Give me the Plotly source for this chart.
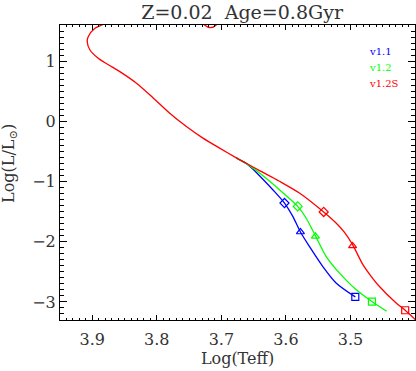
import plotly.graph_objects as go

# isochrone tracks (log Teff, log L/Lsun)
v11_logT = [3.6769, 3.6615, 3.6512, 3.6409, 3.6203, 3.6022, 3.5893, 3.5775, 3.5636, 3.5430, 3.5223, 3.4925]
v11_logL = [-0.606, -0.700, -0.793, -0.904, -1.136, -1.357, -1.579, -1.838, -2.077, -2.408, -2.684, -2.916]

v12_logT = [3.6769, 3.6615, 3.6409, 3.6100, 3.5817, 3.5688, 3.5544, 3.5378, 3.5172, 3.4914, 3.4667, 3.4440]
v12_logL = [-0.606, -0.699, -0.860, -1.136, -1.413, -1.606, -1.899, -2.242, -2.518, -2.795, -2.994, -3.155]

v12s_logT = [3.393, 3.4152, 3.4296, 3.4554, 3.4694, 3.4812, 3.4967, 3.5095, 3.5223, 3.5415,
             3.5791, 3.6100, 3.6409, 3.6615, 3.6769, 3.7027, 3.7285, 3.7542, 3.7800, 3.8057,
             3.8315, 3.8573, 3.8701, 3.8908, 3.9036, 3.9078, 3.9063, 3.8959, 3.8831, 3.870,
             3.80, 3.74, 3.726, 3.717, 3.708, 3.70]
v12s_logL = [-3.36, -3.138, -3.015, -2.740, -2.554, -2.372, -2.048, -1.841, -1.689, -1.506,
             -1.191, -0.995, -0.818, -0.697, -0.606, -0.445, -0.279, -0.086, 0.135, 0.389,
             0.633, 0.826, 0.908, 1.048, 1.185, 1.323, 1.406, 1.545, 1.612, 1.75,
             2.0, 1.8, 1.6, 1.555, 1.6, 1.75]

# marked points on each track (diamond, triangle, square)
v11_mark_T = [3.6022, 3.5775, 3.4925]
v11_mark_L = [-1.357, -1.838, -2.916]
v12_mark_T = [3.5817, 3.5543, 3.4667]
v12_mark_L = [-1.413, -1.910, -2.994]
v12s_mark_T = [3.5415, 3.4967, 3.4152]
v12s_mark_L = [-1.506, -2.070, -3.138]
mark_symbols = ["diamond-open", "triangle-up-open", "square-open"]

labels = ["v1.1", "v1.2", "v1.2S"]
colors = ["#0000FF", "#00FF00", "#FF0000"]

tracks = [(v11_logT, v11_logL, v11_mark_T, v11_mark_L),
          (v12_logT, v12_logL, v12_mark_T, v12_mark_L),
          (v12s_logT, v12s_logL, v12s_mark_T, v12s_mark_L)]

serif = "DejaVu Serif"
txt = "#333333"

fig = go.Figure()

for (t, l, mt, ml), name, c in zip(tracks, labels, colors):
    fig.add_trace(go.Scatter(x=t, y=l, mode="lines", name=name, showlegend=False,
                             line=dict(color=c, width=1.3, shape="spline", smoothing=0.8)))
    fig.add_trace(go.Scatter(x=mt, y=ml, mode="markers", showlegend=False,
                             marker=dict(symbol=mark_symbols, size=7, color=c,
                                         line=dict(color=c, width=1.2))))

# legend written as plain coloured text, like the original
for i, (name, c) in enumerate(zip(labels, colors)):
    fig.add_annotation(text=name, xref="paper", yref="paper",
                       x=0.865, y=0.91 - i * 0.054, xanchor="left", yanchor="middle",
                       showarrow=False, font=dict(family=serif, size=10, color=c))

# y title as annotation so it can sit a bit above centre
fig.add_annotation(text="Log(L/L<sub>\u2299</sub>)", xref="paper", yref="paper",
                   x=-0.143, y=0.53, xanchor="center", yanchor="middle",
                   textangle=-90, showarrow=False,
                   font=dict(family=serif, size=16, color=txt))

axis_common = dict(
    showline=True, linecolor="black", linewidth=1, mirror="allticks",
    ticks="inside", tickcolor="black", showgrid=False, zeroline=False,
    tickfont=dict(family=serif, size=16, color=txt),
)

fig.update_xaxes(range=[3.95, 3.40], dtick=0.1, tick0=3.5, ticklen=5, ticklabelstandoff=5,
                 minor=dict(ticks="inside", dtick=0.01, ticklen=2, tickcolor="black"),
                 title=dict(text="Log(Teff)", font=dict(family=serif, size=16, color=txt), standoff=4),
                 **axis_common)
fig.update_yaxes(range=[-3.3, 1.6], dtick=1, tick0=0, ticklen=7,
                 minor=dict(ticks="inside", dtick=0.1, ticklen=4, tickcolor="black"),
                 **axis_common)

fig.update_layout(
    width=416, height=371,
    margin=dict(l=60, r=1, t=25, b=51),
    plot_bgcolor="white", paper_bgcolor="white",
    title=dict(text="Z=0.02\u00a0 Age=0.8Gyr", x=0.582, xanchor="center", xref="container",
               y=0.985, yanchor="top", yref="container",
               font=dict(family=serif, size=19, color=txt)),
)

# page body has a default 8px margin; drop it so the figure fills the window
fig.write_html("out.html", config={"displayModeBar": False},
               post_script="document.body.style.margin='0';")
